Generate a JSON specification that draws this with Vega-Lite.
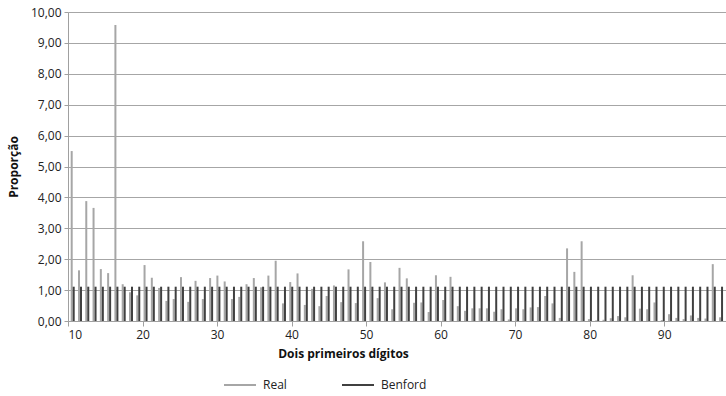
{
  "$schema": "https://vega.github.io/schema/vega-lite/v6.json",
  "width": 658,
  "height": 309,
  "autosize": "none",
  "padding": {"left": 68, "top": 12, "right": 0, "bottom": 75},
  "background": "white",
  "config": {
    "locale": {"number": {"decimal": ",", "thousands": ".", "grouping": [3], "currency": ["R$", ""]}},
    "view": {"stroke": null},
    "font": "Open Sans",
    "axis": {"labelFont": "Open Sans", "labelFontSize": 12, "labelColor": "#222222", "titleFont": "Open Sans", "titleFontSize": 12, "titleFontWeight": "bold", "titleColor": "#111111", "domainColor": "#a0a0a0", "tickColor": "#a0a0a0", "gridColor": "#a6a6a6", "labelOverlap": false},
    "legend": {"labelFont": "Open Sans", "labelFontSize": 12, "labelColor": "#222222"}
  },
  "data": {"values": [
    {"digito":10,"serie":"Real","valor":5.50},{"digito":11,"serie":"Real","valor":1.64},{"digito":12,"serie":"Real","valor":3.88},{"digito":13,"serie":"Real","valor":3.66},{"digito":14,"serie":"Real","valor":1.68},{"digito":15,"serie":"Real","valor":1.55},{"digito":16,"serie":"Real","valor":9.58},{"digito":17,"serie":"Real","valor":1.19},{"digito":18,"serie":"Real","valor":0.93},{"digito":19,"serie":"Real","valor":0.83},
    {"digito":20,"serie":"Real","valor":1.81},{"digito":21,"serie":"Real","valor":1.40},{"digito":22,"serie":"Real","valor":1.07},{"digito":23,"serie":"Real","valor":0.65},{"digito":24,"serie":"Real","valor":0.71},{"digito":25,"serie":"Real","valor":1.42},{"digito":26,"serie":"Real","valor":0.62},{"digito":27,"serie":"Real","valor":1.30},{"digito":28,"serie":"Real","valor":0.71},{"digito":29,"serie":"Real","valor":1.39},
    {"digito":30,"serie":"Real","valor":1.47},{"digito":31,"serie":"Real","valor":1.28},{"digito":32,"serie":"Real","valor":0.71},{"digito":33,"serie":"Real","valor":0.78},{"digito":34,"serie":"Real","valor":1.19},{"digito":35,"serie":"Real","valor":1.39},{"digito":36,"serie":"Real","valor":1.09},{"digito":37,"serie":"Real","valor":1.47},{"digito":38,"serie":"Real","valor":1.95},{"digito":39,"serie":"Real","valor":0.57},
    {"digito":40,"serie":"Real","valor":1.26},{"digito":41,"serie":"Real","valor":1.54},{"digito":42,"serie":"Real","valor":0.52},{"digito":43,"serie":"Real","valor":1.04},{"digito":44,"serie":"Real","valor":0.48},{"digito":45,"serie":"Real","valor":0.81},{"digito":46,"serie":"Real","valor":1.15},{"digito":47,"serie":"Real","valor":0.61},{"digito":48,"serie":"Real","valor":1.67},{"digito":49,"serie":"Real","valor":0.58},
    {"digito":50,"serie":"Real","valor":2.58},{"digito":51,"serie":"Real","valor":1.91},{"digito":52,"serie":"Real","valor":0.74},{"digito":53,"serie":"Real","valor":1.25},{"digito":54,"serie":"Real","valor":0.38},{"digito":55,"serie":"Real","valor":1.72},{"digito":56,"serie":"Real","valor":1.38},{"digito":57,"serie":"Real","valor":0.59},{"digito":58,"serie":"Real","valor":0.60},{"digito":59,"serie":"Real","valor":0.29},
    {"digito":60,"serie":"Real","valor":1.48},{"digito":61,"serie":"Real","valor":0.68},{"digito":62,"serie":"Real","valor":1.43},{"digito":63,"serie":"Real","valor":0.48},{"digito":64,"serie":"Real","valor":0.33},{"digito":65,"serie":"Real","valor":0.41},{"digito":66,"serie":"Real","valor":0.41},{"digito":67,"serie":"Real","valor":0.41},{"digito":68,"serie":"Real","valor":0.30},{"digito":69,"serie":"Real","valor":0.38},
    {"digito":70,"serie":"Real","valor":0.05},{"digito":71,"serie":"Real","valor":0.41},{"digito":72,"serie":"Real","valor":0.38},{"digito":73,"serie":"Real","valor":0.44},{"digito":74,"serie":"Real","valor":0.45},{"digito":75,"serie":"Real","valor":0.81},{"digito":76,"serie":"Real","valor":0.57},{"digito":77,"serie":"Real","valor":0.10},{"digito":78,"serie":"Real","valor":2.35},{"digito":79,"serie":"Real","valor":1.59},
    {"digito":80,"serie":"Real","valor":2.58},{"digito":81,"serie":"Real","valor":0.06},{"digito":82,"serie":"Real","valor":0.02},{"digito":83,"serie":"Real","valor":0.04},{"digito":84,"serie":"Real","valor":0.09},{"digito":85,"serie":"Real","valor":0.16},{"digito":86,"serie":"Real","valor":0.12},{"digito":87,"serie":"Real","valor":1.48},{"digito":88,"serie":"Real","valor":0.40},{"digito":89,"serie":"Real","valor":0.38},
    {"digito":90,"serie":"Real","valor":0.60},{"digito":91,"serie":"Real","valor":0.03},{"digito":92,"serie":"Real","valor":0.22},{"digito":93,"serie":"Real","valor":0.10},{"digito":94,"serie":"Real","valor":0.06},{"digito":95,"serie":"Real","valor":0.18},{"digito":96,"serie":"Real","valor":0.10},{"digito":97,"serie":"Real","valor":0.08},{"digito":98,"serie":"Real","valor":1.84},{"digito":99,"serie":"Real","valor":0.12},
    {"digito":10,"serie":"Benford","valor":1.11},{"digito":11,"serie":"Benford","valor":1.11},{"digito":12,"serie":"Benford","valor":1.11},{"digito":13,"serie":"Benford","valor":1.11},{"digito":14,"serie":"Benford","valor":1.11},{"digito":15,"serie":"Benford","valor":1.11},{"digito":16,"serie":"Benford","valor":1.11},{"digito":17,"serie":"Benford","valor":1.11},{"digito":18,"serie":"Benford","valor":1.11},{"digito":19,"serie":"Benford","valor":1.11},
    {"digito":20,"serie":"Benford","valor":1.11},{"digito":21,"serie":"Benford","valor":1.11},{"digito":22,"serie":"Benford","valor":1.11},{"digito":23,"serie":"Benford","valor":1.11},{"digito":24,"serie":"Benford","valor":1.11},{"digito":25,"serie":"Benford","valor":1.11},{"digito":26,"serie":"Benford","valor":1.11},{"digito":27,"serie":"Benford","valor":1.11},{"digito":28,"serie":"Benford","valor":1.11},{"digito":29,"serie":"Benford","valor":1.11},
    {"digito":30,"serie":"Benford","valor":1.11},{"digito":31,"serie":"Benford","valor":1.11},{"digito":32,"serie":"Benford","valor":1.11},{"digito":33,"serie":"Benford","valor":1.11},{"digito":34,"serie":"Benford","valor":1.11},{"digito":35,"serie":"Benford","valor":1.11},{"digito":36,"serie":"Benford","valor":1.11},{"digito":37,"serie":"Benford","valor":1.11},{"digito":38,"serie":"Benford","valor":1.11},{"digito":39,"serie":"Benford","valor":1.11},
    {"digito":40,"serie":"Benford","valor":1.11},{"digito":41,"serie":"Benford","valor":1.11},{"digito":42,"serie":"Benford","valor":1.11},{"digito":43,"serie":"Benford","valor":1.11},{"digito":44,"serie":"Benford","valor":1.11},{"digito":45,"serie":"Benford","valor":1.11},{"digito":46,"serie":"Benford","valor":1.11},{"digito":47,"serie":"Benford","valor":1.11},{"digito":48,"serie":"Benford","valor":1.11},{"digito":49,"serie":"Benford","valor":1.11},
    {"digito":50,"serie":"Benford","valor":1.11},{"digito":51,"serie":"Benford","valor":1.11},{"digito":52,"serie":"Benford","valor":1.11},{"digito":53,"serie":"Benford","valor":1.11},{"digito":54,"serie":"Benford","valor":1.11},{"digito":55,"serie":"Benford","valor":1.11},{"digito":56,"serie":"Benford","valor":1.11},{"digito":57,"serie":"Benford","valor":1.11},{"digito":58,"serie":"Benford","valor":1.11},{"digito":59,"serie":"Benford","valor":1.11},
    {"digito":60,"serie":"Benford","valor":1.11},{"digito":61,"serie":"Benford","valor":1.11},{"digito":62,"serie":"Benford","valor":1.11},{"digito":63,"serie":"Benford","valor":1.11},{"digito":64,"serie":"Benford","valor":1.11},{"digito":65,"serie":"Benford","valor":1.11},{"digito":66,"serie":"Benford","valor":1.11},{"digito":67,"serie":"Benford","valor":1.11},{"digito":68,"serie":"Benford","valor":1.11},{"digito":69,"serie":"Benford","valor":1.11},
    {"digito":70,"serie":"Benford","valor":1.11},{"digito":71,"serie":"Benford","valor":1.11},{"digito":72,"serie":"Benford","valor":1.11},{"digito":73,"serie":"Benford","valor":1.11},{"digito":74,"serie":"Benford","valor":1.11},{"digito":75,"serie":"Benford","valor":1.11},{"digito":76,"serie":"Benford","valor":1.11},{"digito":77,"serie":"Benford","valor":1.11},{"digito":78,"serie":"Benford","valor":1.11},{"digito":79,"serie":"Benford","valor":1.11},
    {"digito":80,"serie":"Benford","valor":1.11},{"digito":81,"serie":"Benford","valor":1.11},{"digito":82,"serie":"Benford","valor":1.11},{"digito":83,"serie":"Benford","valor":1.11},{"digito":84,"serie":"Benford","valor":1.11},{"digito":85,"serie":"Benford","valor":1.11},{"digito":86,"serie":"Benford","valor":1.11},{"digito":87,"serie":"Benford","valor":1.11},{"digito":88,"serie":"Benford","valor":1.11},{"digito":89,"serie":"Benford","valor":1.11},
    {"digito":90,"serie":"Benford","valor":1.11},{"digito":91,"serie":"Benford","valor":1.11},{"digito":92,"serie":"Benford","valor":1.11},{"digito":93,"serie":"Benford","valor":1.11},{"digito":94,"serie":"Benford","valor":1.11},{"digito":95,"serie":"Benford","valor":1.11},{"digito":96,"serie":"Benford","valor":1.11},{"digito":97,"serie":"Benford","valor":1.11},{"digito":98,"serie":"Benford","valor":1.11},{"digito":99,"serie":"Benford","valor":1.11}
  ]},
  "encoding": {
    "y": {"field": "valor", "type": "quantitative", "scale": {"domain": [0, 10], "nice": false},
          "axis": {"values": [0,1,2,3,4,5,6,7,8,9,10], "format": ".2f", "title": "Proporção", "grid": true, "tickSize": 4, "labelPadding": 3, "titlePadding": 10, "labelOverlap": false}}
  },
  "layer": [
    {
      "mark": {"type": "point", "opacity": 0},
      "encoding": {
        "x": {"field": "digito", "type": "quantitative", "scale": {"domain": [10, 98.3], "nice": false, "zero": false},
              "axis": {"values": [10, 20, 30, 40, 50, 60, 70, 80, 90], "title": "Dois primeiros dígitos", "grid": false, "tickSize": 5, "labelPadding": 3, "titlePadding": 8, "format": "d", "titleX": 275, "titleAlign": "center", "titleAnchor": null}}
      }
    },
    {
      "transform": [{"filter": "datum.serie === 'Real'"}],
      "mark": {"type": "rule", "strokeWidth": 2, "xOffset": -1},
      "encoding": {
        "x": {"field": "digito", "type": "quantitative", "scale": {"domain": [9.355, 99.68], "nice": false, "zero": false}, "axis": null},
        "y2": {"datum": 0},
        "color": {"field": "serie", "type": "nominal",
                  "scale": {"domain": ["Real", "Benford"], "range": ["#a6a6a6", "#404040"]},
                  "legend": {"title": null, "orient": "none", "direction": "horizontal", "legendX": 155, "legendY": 356, "symbolType": "stroke", "symbolSize": 1024, "symbolStrokeWidth": 2, "labelOffset": 6, "columnPadding": 51, "padding": 0}}
      }
    },
    {
      "transform": [{"filter": "datum.serie === 'Benford'"}],
      "mark": {"type": "rule", "strokeWidth": 2, "xOffset": 1},
      "encoding": {
        "x": {"field": "digito", "type": "quantitative", "scale": {"domain": [9.355, 99.68], "nice": false, "zero": false}, "axis": null},
        "y2": {"datum": 0},
        "color": {"field": "serie", "type": "nominal"}
      }
    }
  ],
  "resolve": {"scale": {"x": "independent"}, "axis": {"x": "independent"}}
}
